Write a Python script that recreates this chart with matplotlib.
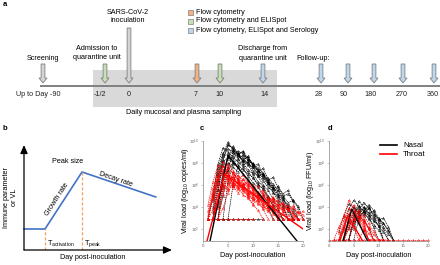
import numpy as np
import matplotlib
matplotlib.use('Agg')
import matplotlib.pyplot as plt
import matplotlib.patches as mpatches

plt.rcParams['font.family'] = ['Liberation Sans', 'DejaVu Sans']
plt.rcParams['mathtext.default'] = 'regular'

# ---------------- panel a: timeline ----------------
timeline_labels = ["Up to Day -90", "-1/2", "0", "7", "10", "14", "28", "90", "180", "270", "360"]
arrow_kind = ["grey", "green", "grey", "orange", "green", "blue", "blue", "blue", "blue", "blue", "blue"]
legend_labels = ["Flow cytometry", "Flow cytometry and ELISpot", "Flow cytometry, ELISpot and Serology"]
legend_kind = ["orange", "green", "blue"]

# ---------------- panel c: viral load (copies/ml), log10 ----------------
c_nasal_start = [1, 2, 2, 3, 1, 3, 2, 4, 2, 3, 2, 5, 2, 2, 3, 3]
c_nasal_log = [
    [2.9, 5.2, 7.5, 8.9, 9.3, 9.0, 8.6, 8.2, 7.8, 7.1, 6.8, 6.0, 5.5, 4.8, 4.4, 3.9, 2.9, 2.9],
    [2.9, 6.1, 8.2, 9.6, 9.4, 8.8, 8.5, 7.9, 7.6, 6.9, 6.4, 5.8, 5.4, 4.6, 4.2, 3.6, 2.9],
    [4.0, 7.1, 8.6, 8.8, 8.3, 8.9, 8.0, 7.4, 7.0, 6.3, 5.9, 5.0, 4.1, 2.9],
    [2.9, 5.8, 7.6, 8.7, 9.1, 8.8, 8.4, 8.0, 7.5, 7.1, 6.5, 5.9, 5.2, 4.8, 4.0, 3.5, 2.9],
    [2.9, 4.7, 6.9, 8.1, 8.5, 8.0, 7.6, 7.0, 6.5, 5.9, 5.2, 4.6, 4.0, 2.9],
    [4.5, 7.2, 8.4, 9.2, 8.7, 8.3, 8.6, 7.8, 7.3, 6.6, 6.1, 5.3, 4.9, 4.1, 2.9],
    [2.9, 5.5, 7.8, 8.0, 7.6, 7.2, 7.5, 6.8, 6.2, 5.8, 5.1, 4.3, 3.9, 2.9],
    [2.9, 6.3, 7.9, 8.4, 8.7, 8.2, 7.9, 7.4, 6.9, 6.3, 5.7, 5.5, 4.7, 4.2, 3.8, 2.9],
    [5.0, 7.9, 9.4, 9.0, 8.5, 8.1, 7.7, 7.2, 6.6, 6.0, 5.7, 4.9, 4.5, 3.8, 2.9],
    [2.9, 6.6, 7.3, 8.1, 7.8, 7.4, 7.0, 6.7, 6.1, 5.6, 4.8, 4.2, 3.6, 2.9],
    [2.9, 2.9, 2.9, 2.9, 2.9, 2.9, 2.9, 2.9, 2.9, 2.9, 2.9],
    [2.9, 6.0, 7.7, 8.3, 8.0, 7.6, 7.0, 6.7, 6.2, 5.6, 5.0, 4.4, 3.9, 2.9],
    [3.5, 6.4, 8.8, 9.9, 9.2, 8.7, 9.1, 8.4, 7.7, 7.9, 7.0, 6.4, 6.7, 5.8, 5.2, 5.5, 4.6, 4.1, 2.9],
    [2.9, 4.1, 6.8, 8.5, 9.5, 8.9, 8.2, 8.6, 7.8, 7.2, 7.5, 6.6, 6.1, 5.5, 4.9, 5.2, 4.5, 2.9],
    [2.9, 5.0, 7.4, 9.0, 8.4, 7.8, 8.1, 7.3, 6.8, 7.0, 6.2, 5.6, 5.9, 5.0, 4.4, 4.6, 3.9],
    [5.5, 8.3, 9.7, 9.3, 8.8, 9.0, 8.3, 7.9, 7.3, 6.9, 6.4, 5.8, 5.1, 4.6, 4.0, 2.9],
]
c_throat_start = [1, 1, 2, 2, 1, 2, 1, 3, 1, 2, 3, 1, 2, 1, 3, 2]
c_throat_log = [
    [2.9, 5.4, 6.8, 7.4, 7.0, 6.6, 6.9, 6.2, 5.8, 6.0, 5.3, 4.9, 4.6, 4.0, 4.2, 3.6, 2.9],
    [4.2, 6.3, 7.8, 7.2, 6.5, 5.9, 6.3, 5.5, 5.0, 4.7, 4.3, 3.9, 4.1, 3.4, 2.9],
    [2.9, 5.9, 6.6, 7.5, 7.1, 6.4, 6.0, 6.2, 5.4, 5.1, 4.5, 4.8, 4.2, 3.8, 3.9, 3.3, 2.9, 3.6, 2.9],
    [4.5, 6.2, 5.8, 6.9, 6.0, 5.6, 5.9, 5.2, 4.6, 4.9, 4.2, 3.7, 2.9],
    [2.9, 3.8, 5.1, 6.4, 7.9, 7.3, 6.8, 6.5, 6.0, 5.7, 5.9, 5.2, 4.7, 4.4, 4.6, 4.0, 3.7, 4.1, 3.5, 3.3],
    [2.9, 4.6, 6.0, 5.5, 6.7, 6.2, 5.4, 5.6, 4.9, 4.4, 4.6, 3.9, 3.5, 2.9],
    [3.6, 5.7, 7.3, 8.1, 7.6, 7.0, 6.5, 6.9, 6.1, 5.6, 5.2, 5.5, 4.9, 4.5, 4.1, 4.3, 3.8, 3.4, 2.9],
    [2.9, 5.2, 6.1, 5.7, 6.4, 5.8, 5.3, 5.5, 4.8, 4.3, 4.5, 3.8, 3.4, 2.9],
    [2.9, 4.9, 6.5, 7.0, 6.3, 6.8, 6.0, 5.7, 5.1, 5.3, 4.6, 4.1, 3.6, 3.9, 3.2, 2.9, 2.9, 2.9, 2.9, 2.9],
    [5.1, 6.9, 7.7, 7.2, 6.4, 6.6, 6.1, 5.4, 5.0, 5.4, 4.7, 4.3, 4.7, 4.0, 3.6, 3.9, 3.2, 2.9],
    [3.9, 5.5, 6.6, 6.3, 5.8, 5.1, 4.8, 4.2, 3.7, 2.9],
    [2.9, 2.9, 2.9, 2.9, 2.9, 2.9, 2.9, 2.9, 2.9, 2.9],
    [2.9, 4.4, 6.1, 5.6, 7.2, 6.5, 5.9, 6.4, 5.7, 5.0, 5.3, 4.6, 4.9, 4.3, 3.8, 4.2, 3.5, 2.9],
    [3.3, 5.0, 6.6, 7.7, 6.9, 6.2, 5.7, 6.1, 5.3, 4.8, 5.1, 4.4, 4.0, 3.6, 2.9, 3.4, 2.9, 2.9, 2.9],
    [2.9, 3.9, 5.3, 6.2, 5.9, 6.5, 5.8, 5.2, 4.7, 5.0, 4.5, 4.8, 4.1, 4.4, 3.7, 3.9, 3.4, 3.6],
    [4.8, 6.5, 7.1, 6.6, 5.9, 5.3, 5.7, 4.9, 4.3, 4.6, 3.8, 2.9],
]
c_fit_nasal_days = [1.4, 5.0, 18.8]
c_fit_nasal_log = [0.9, 8.7, 0.9]
c_fit_throat_days = [0.8, 4.3, 20.0]
c_fit_throat_log = [0.9, 7.0, 2.0]

# ---------------- panel d: viral load (FFU/ml), log10 ----------------
d_nasal_start = [3, 2, 4, 3, 5, 2, 4, 3, 5, 3, 4]
d_nasal_log = [
    [1.0, 2.6, 3.5, 3.9, 3.4, 3.0, 2.4, 1.9, 1.0],
    [1.0, 2.2, 3.8, 4.6, 4.1, 3.6, 2.9, 2.2, 1.0],
    [1.0, 2.8, 3.7, 4.4, 3.9, 3.1, 2.6, 2.0, 1.0],
    [1.0, 3.1, 4.0, 3.5, 3.8, 3.2, 2.7, 2.3, 1.7, 1.0],
    [1.0, 2.9, 3.6, 4.2, 3.7, 3.0, 2.5, 1.9, 1.0],
    [1.8, 3.2, 4.3, 3.9, 3.3, 2.8, 2.1, 1.0],
    [1.0, 2.4, 3.1, 3.5, 3.3, 2.8, 2.4, 1.0],
    [1.0, 1.0, 3.0, 4.5, 4.0, 3.4, 3.6, 2.9, 2.2, 1.5, 1.0],
    [2.0, 3.4, 4.0, 3.5, 3.0, 2.3, 1.0],
    [1.0, 2.1, 3.3, 4.1, 3.6, 4.0, 3.3, 2.8, 3.0, 2.2, 1.0],
    [1.0, 2.7, 3.6, 3.2, 3.9, 3.4, 2.9, 2.5, 1.8, 1.0],
]
d_throat_start = [2, 3, 1, 2, 3, 2, 4, 3, 0, 1, 3]
d_throat_log = [
    [1.0, 2.8, 3.9, 3.3, 2.5, 1.9, 1.0],
    [2.0, 3.4, 2.9, 3.1, 2.4, 1.0, 1.0],
    [1.0, 2.2, 3.1, 4.6, 3.8, 2.7, 2.0, 1.0],
    [1.0, 1.8, 2.5, 3.5, 2.8, 2.2, 1.6, 1.0],
    [1.0, 2.9, 3.6, 3.0, 3.3, 2.5, 1.8, 1.0],
    [1.6, 3.3, 2.7, 2.2, 1.0, 1.9, 1.0],
    [1.0, 2.6, 3.2, 2.7, 2.1, 1.5, 1.0, 1.0],
    [1.0, 2.3, 3.0, 3.7, 2.9, 2.2, 1.0],
    [1.0] * 21,
    [1.0, 1.0, 2.4, 3.4, 4.2, 3.1, 2.6, 1.0, 1.0, 1.0, 1.0, 1.0],
    [1.0, 2.0, 2.9, 3.5, 2.6, 2.0, 1.0],
]
d_fit_nasal_days = [2.8, 4.6, 7.8]
d_fit_nasal_log = [0.9, 3.8, 0.9]
d_fit_throat_days = [2.2, 3.8, 6.8]
d_fit_throat_log = [0.9, 3.2, 0.9]

# ---------------- styling ----------------
FS = 5.2
fill = {"grey": "#d4d4d4", "orange": "#f4b183", "green": "#c5e0b4", "blue": "#bdd7ee"}
edge = "#7f7f7f"
col_nasal = "black"
col_throat = "#ff0000"

fig = plt.figure(figsize=(4.4, 2.65), dpi=100)

# overlay axes in pixel units for schematic panel a
ax0 = fig.add_axes([0, 0, 1, 1])
ax0.set_xlim(0, 440)
ax0.set_ylim(265, 0)
ax0.axis('off')

# layout positions (pixels)
arrow_x = [43, 105, 129, 197, 220, 263, 321, 348, 374, 403, 434]
label_x = [38, 100, 129, 196, 219, 265, 319, 344, 371, 402, 433]
line_y = 86
ax0.add_patch(mpatches.Rectangle((93, 70), 184, 37, fc="#d9d9d9", ec="none", zorder=1))
ax0.plot([40, 440], [line_y, line_y], color="#808080", lw=1.4, zorder=2, solid_capstyle='butt')
for lab, xa, xl, kind in zip(timeline_labels, arrow_x, label_x, arrow_kind):
    top = 28 if lab == "0" else 64
    ax0.add_patch(mpatches.FancyArrow(xa, top, 0, 83 - top, width=3.8, head_width=8,
                                      head_length=5, length_includes_head=True,
                                      fc=fill[kind], ec=edge, lw=0.6, zorder=3))
    ax0.text(xl, 94, lab, fontsize=FS, ha='center', va='center', color="#222222")

ax0.text(128, 12, "SARS-CoV-2", fontsize=FS, ha='center', va='center')
ax0.text(128, 21, "inoculation", fontsize=FS, ha='center', va='center')
ax0.text(97, 49, "Admission to", fontsize=FS, ha='center', va='center')
ax0.text(97, 57.5, "quarantine unit", fontsize=FS, ha='center', va='center')
ax0.text(43, 59, "Screening", fontsize=FS, ha='center', va='center')
ax0.text(263, 49, "Discharge from", fontsize=FS, ha='center', va='center')
ax0.text(263, 58, "quarantine unit", fontsize=FS, ha='center', va='center')
ax0.text(313, 59, "Follow-up:", fontsize=FS, ha='center', va='center')
ax0.text(184, 113, "Daily mucosal and plasma sampling", fontsize=FS, ha='center', va='center')
for i, (lab, kind) in enumerate(zip(legend_labels, legend_kind)):
    yy = 12 + 9 * i
    ax0.add_patch(mpatches.Rectangle((188, yy - 2.5), 5, 5, fc=fill[kind], ec=edge, lw=0.5))
    ax0.text(196, yy, lab, fontsize=FS, ha='left', va='center')

for lab, (x, y) in zip("abcd", [(3, 4), (3, 129), (200, 129), (328, 129)]):
    ax0.text(x, y, lab, fontsize=5.5, fontweight='bold', ha='left', va='center')

# ---------------- panel b: schematic ----------------
axb = fig.add_axes([24 / 440, 15 / 265, 148 / 440, 105 / 265])
axb.set_xlim(0, 1)
axb.set_ylim(0, 1)
axb.axis('off')
axb.annotate("", xy=(1, 0), xytext=(0, 0), xycoords='axes fraction',
             arrowprops=dict(arrowstyle='-|>,head_length=0.5,head_width=0.22', color='black', lw=0.9, shrinkA=0, shrinkB=0))
axb.annotate("", xy=(0, 1), xytext=(0, 0), xycoords='axes fraction',
             arrowprops=dict(arrowstyle='-|>,head_length=0.5,head_width=0.22', color='black', lw=0.9, shrinkA=0, shrinkB=0))
t_act, t_peak = 0.142, 0.392
base, peak = 0.2, 0.743
axb.plot([0, t_act, t_peak, 0.89], [base, base, peak, 0.505], color="#4472c4", lw=1.2, clip_on=False)
axb.plot([t_act, t_act], [0, base], color="#f4a460", lw=0.9, ls=(0, (2.5, 1.5)))
axb.plot([t_peak, t_peak], [0, peak], color="#f4a460", lw=0.9, ls=(0, (2.5, 1.5)))
axb.text(0.297, 0.84, "Peak size", fontsize=FS, ha='center', va='center')
axb.text(0.225, 0.48, "Growth rate", fontsize=FS, ha='center', va='center', rotation=57)
axb.text(0.62, 0.675, "Decay rate", fontsize=FS, ha='center', va='center', rotation=-19)
axb.text(t_act + 0.012, 0.06, r"T$_{activation}$", fontsize=FS, ha='left', va='center')
axb.text(t_peak + 0.012, 0.06, r"T$_{peak}$", fontsize=FS, ha='left', va='center')
axb.text(0.466, -0.07, "Day post-inoculation", fontsize=FS, ha='center', va='center', clip_on=False)
axb.text(-0.09, 0.5, "Immune parameter\nor VL", fontsize=FS, ha='center', va='center',
         rotation=90, linespacing=1.1)


def style_vl(ax, ylab, ylab_x):
    ax.set_yscale('log')
    ax.set_xlim(0, 20)
    ax.set_ylim(10 ** 0.9, 1e10)
    ax.set_yticks([1e2, 1e4, 1e6, 1e8, 1e10])
    ax.minorticks_off()
    ax.set_xticks([0, 5, 10, 15, 20])
    for s in ['top', 'right']:
        ax.spines[s].set_visible(False)
    for s in ['left', 'bottom']:
        ax.spines[s].set_color('#9a9a9a')
        ax.spines[s].set_linewidth(0.6)
    ax.tick_params(labelsize=3.2, length=1.5, width=0.4, pad=1.0, colors='#9a9a9a', labelcolor='#666666')
    ax.set_xlabel("Day post-inoculation", fontsize=FS, labelpad=2.5)
    ax.set_ylabel(ylab, fontsize=FS)
    ax.yaxis.set_label_coords(ylab_x, 0.5)


def draw_traj(ax, starts, vals, color):
    for s, v in zip(starts, vals):
        d = np.arange(s, s + len(v))
        ax.plot(d, 10 ** np.array(v), ls=(0, (2, 1)), lw=0.5, color=color,
                marker='^', ms=1.5, mew=0.3, mfc='none', clip_on=False)


axc = fig.add_axes([203 / 440, 24 / 265, 100 / 440, 100 / 265])
draw_traj(axc, c_nasal_start, c_nasal_log, col_nasal)
draw_traj(axc, c_throat_start, c_throat_log, col_throat)
axc.plot(c_fit_nasal_days, 10 ** np.array(c_fit_nasal_log), color=col_nasal, lw=1.0)
axc.plot(c_fit_throat_days, 10 ** np.array(c_fit_throat_log), color=col_throat, lw=1.0)
style_vl(axc, r"Viral load (log$_{10}$ copies/ml)", -0.125)

axd = fig.add_axes([329 / 440, 24 / 265, 99 / 440, 100 / 265])
draw_traj(axd, d_nasal_start, d_nasal_log, col_nasal)
draw_traj(axd, d_throat_start, d_throat_log, col_throat)
axd.plot(d_fit_nasal_days, 10 ** np.array(d_fit_nasal_log), color=col_nasal, lw=1.0)
axd.plot(d_fit_throat_days, 10 ** np.array(d_fit_throat_log), color=col_throat, lw=1.0)
style_vl(axd, r"Viral load (log$_{10}$ FFU/ml)", -0.135)
h1, = axd.plot([], [], color=col_nasal, lw=1.2, label="Nasal")
h2, = axd.plot([], [], color=col_throat, lw=1.2, label="Throat")
axd.legend(handles=[h1, h2], fontsize=5.6, frameon=False, loc='upper right',
           bbox_to_anchor=(1.05, 1.06), handlelength=2.2, handletextpad=0.8, labelspacing=0.2)

fig.savefig("out.png", dpi=100)
